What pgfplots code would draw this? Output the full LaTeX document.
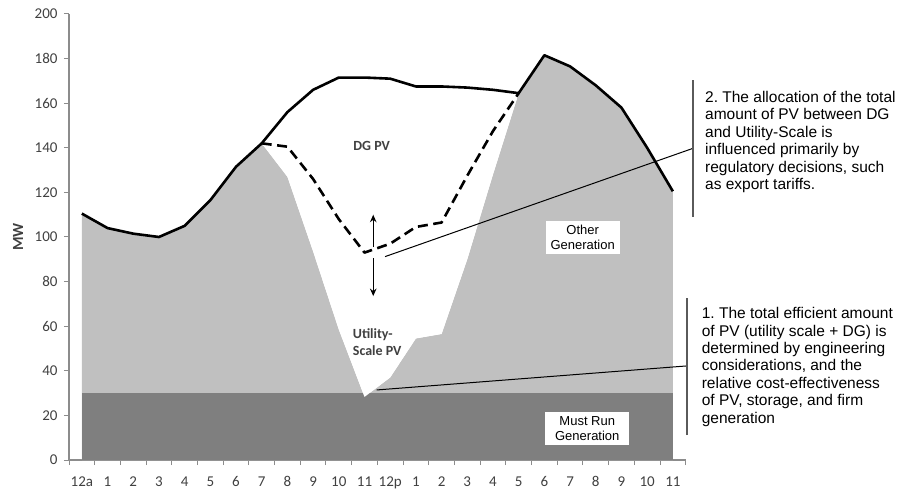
\documentclass[border=0pt]{standalone}
\usepackage{fontspec}
\setmainfont{Carlito}
\newfontfamily\arialf{Liberation Sans}
\usepackage{pgfplots}
\pgfplotsset{compat=1.18}
\usetikzlibrary{arrows.meta}
\frenchspacing

\definecolor{lightg}{RGB}{192,192,192}
\definecolor{darkg}{RGB}{127,127,127}
\definecolor{axisg}{RGB}{140,140,140}
\definecolor{brackg}{RGB}{90,90,90}
\definecolor{ticktxt}{RGB}{64,64,64}

% hourly load (MW), 12a ... 11p
\pgfplotstableread{
h load
0 110.5
1 104
2 101.5
3 100
4 105
5 116.5
6 131.5
7 142
8 156
9 166
10 171.5
11 171.5
12 171
13 167.5
14 167.5
15 167
16 166
17 164.5
18 181.5
19 176.5
20 168
21 158
22 140
23 120.5
}\loadtab

\begin{document}
\begin{tikzpicture}
\path[use as bounding box] (0,0) rectangle (904bp,491bp);
\begin{axis}[
    at={(69bp,31bp)}, anchor=south west,
    scale only axis, width=616.7bp, height=446bp,
    xmin=-0.5, xmax=23.5, ymin=0, ymax=200,
    axis x line*=bottom, axis y line*=left,
    axis line style={draw=axisg, line width=1.1bp, -},
    tick align=outside,
    major tick length=5bp, minor tick length=5bp,
    ytick={0,20,...,200},
    y tick style={draw=axisg, line width=1bp},
    xtick={0,...,23},
    xticklabels={12a,1,2,3,4,5,6,7,8,9,10,11,12p,1,2,3,4,5,6,7,8,9,10,11},
    x tick style={draw=none},
    minor xtick={-0.5,0.5,...,23.5},
    minor x tick style={draw=axisg, line width=1bp},
    /pgf/number format/assume math mode=true,
    tick label style={font=\fontsize{15bp}{17bp}\selectfont, text=ticktxt},
    xticklabel style={anchor=base, yshift=-21bp},
    yticklabel style={xshift=-3bp},
    clip=false,
]
% other generation (top edge of light grey)
\addplot[fill=lightg, draw=none] coordinates {
(0,110.5) (1,104) (2,101.5) (3,100) (4,105) (5,116.5) (6,131.5) (7,142)
(8,127) (9,93.5) (10,58.5) (11,28.3) (12,37) (13,54.5) (14,56.5) (15,90)
(16,128) (17,164.5) (18,181.5) (19,176.5) (20,168) (21,158) (22,140) (23,120.5)
} \closedcycle;
% must run
\addplot[fill=darkg, draw=none] coordinates {(0,30) (23,30)} \closedcycle;
% utility-scale PV (white)
\addplot[fill=white, draw=none] coordinates {
(7,142) (8,140.5) (9,126) (10,108) (11,93) (12,97) (13,104.5) (14,106.5)
(15,127.5) (16,147.5) (17,164.5)
(16,128) (15,90) (14,56.5) (13,54.5) (12,37) (11,28.3) (10,58.5) (9,93.5) (8,127)
} -- cycle;
% load net of DG
\addplot[black, line width=2.6bp, line join=round, dash pattern=on 10bp off 5.5bp] coordinates {
(7,142) (8,140.5) (9,126) (10,108) (11,93) (12,97) (13,104.5) (14,106.5)
(15,127.5) (16,147.5) (17,164.5)
};
% total load
\addplot[black, line width=2.6bp, line join=round] table[x=h, y=load] {\loadtab};

% arrows
\draw[-{Stealth[length=7.5bp,width=6.5bp]}, line width=1.3bp] (axis cs:11.34,95.5) -- (axis cs:11.34,110);
\draw[-{Stealth[length=7.5bp,width=6.5bp]}, line width=1.3bp] (axis cs:11.34,90.5) -- (axis cs:11.34,73.5);

% region labels
\node[font=\bfseries\fontsize{14bp}{16bp}\selectfont, text=ticktxt] at (axis cs:11.28,140.8) {DG PV};
\node[font=\bfseries\fontsize{14bp}{16.7bp}\selectfont, text=ticktxt, align=left, anchor=west, inner sep=0pt]
    at (axis cs:10.54,53) {Utility-\\Scale PV};
\node[fill=white, font=\arialf\fontsize{13bp}{14.4bp}\selectfont, align=center, inner xsep=5bp, inner ysep=4.5bp]
    at (axis cs:19.49,99.8) {Other\\Generation};
\node[fill=white, font=\arialf\fontsize{13bp}{15bp}\selectfont, align=center, inner xsep=10bp, inner ysep=4.5bp]
    at (axis cs:19.67,14.2) {Must Run\\Generation};

% MW label
\node[rotate=90, font=\bfseries\fontsize{15.5bp}{17bp}\selectfont, text=ticktxt] at (axis cs:-0.5,100) [yshift=51bp] {MW};

% callout 2
\draw[line width=1bp] (axis cs:11.80,91.2) -- (axis cs:23.77,139.7);
\draw[brackg, line width=2.2bp] (axis cs:23.77,109.1) -- (axis cs:23.77,170.4);
\node[anchor=north west, inner sep=0pt, align=left, font=\arialf\fontsize{15.5bp}{17.45bp}\selectfont]
    at (axis cs:24.25,165.5) {2. The allocation of the total\\amount of PV between DG\\and Utility-Scale is\\influenced primarily by\\regulatory decisions, such\\as export tariffs.};

% callout 1
\draw[line width=1bp] (axis cs:11.47,31.4) -- (axis cs:23.56,42.2);
\draw[brackg, line width=2.2bp] (axis cs:23.56,11.2) -- (axis cs:23.56,72.5);
\node[anchor=north west, inner sep=0pt, align=left, font=\arialf\fontsize{15.5bp}{17.4bp}\selectfont]
    at (axis cs:24.12,68.5) {1. The total efficient amount\\of PV (utility scale + DG) is\\determined by engineering\\considerations, and the\\relative cost-effectiveness\\of PV, storage, and firm\\generation};
\end{axis}
\end{tikzpicture}
\end{document}
